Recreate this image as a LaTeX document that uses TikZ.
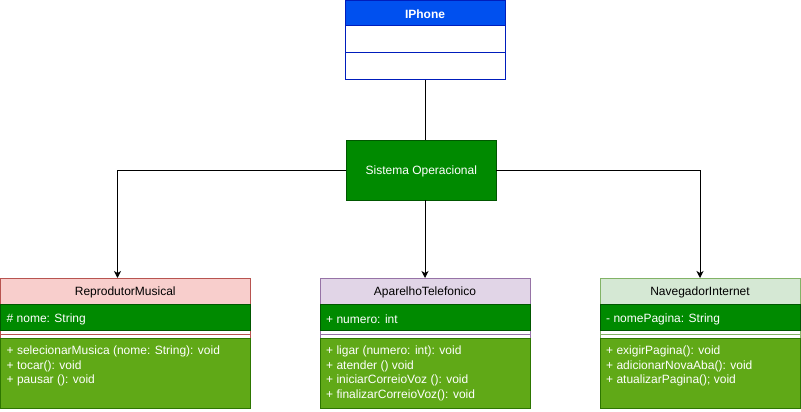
\documentclass[tikz,border=0pt]{standalone}
\usepackage{fontspec}
\setmainfont{Liberation Sans}
\usetikzlibrary{arrows.meta}
\definecolor{rmfill}{HTML}{F8CECC}\definecolor{rmline}{HTML}{B85450}
\definecolor{atfill}{HTML}{E1D5E7}\definecolor{atline}{HTML}{9673A6}
\definecolor{nvfill}{HTML}{D5E8D4}\definecolor{nvline}{HTML}{82B366}
\definecolor{attrfill}{HTML}{008A00}\definecolor{attrline}{HTML}{005700}
\definecolor{methfill}{HTML}{60A917}\definecolor{methline}{HTML}{2D7600}
\definecolor{ipfill}{HTML}{0050EF}\definecolor{ipline}{HTML}{001DBC}
\tikzset{
  box/.style={draw,line width=1pt,inner sep=0pt,outer sep=0pt},
  txt/.style={font=\fontsize{12}{14.5}\selectfont,inner sep=0pt},
  mem/.style={txt,text=white,align=left,anchor=west},
  arr/.style={draw,line width=1pt,-{Stealth[length=7pt,width=7pt,inset=2pt]}},
  conn/.style={draw,line width=1pt},
}
\begin{document}
\begin{tikzpicture}[x=1pt,y=-1pt]
\useasboundingbox (0,0) rectangle (801,412);
% IPhone
\draw[box,draw=ipline,fill=white] (345,0.5) rectangle (505,80);
\draw[box,draw=ipline,fill=ipfill] (345,0.5) rectangle (505,26);
\draw[draw=ipline,line width=1pt] (345,53) -- (505,53);
\node[txt,text=white,font=\fontsize{12}{14.5}\selectfont\bfseries] (iph) at (425,14.5) {IPhone};
\coordinate (iphb) at (425,80);
% Sistema Operacional
\node[box,draw=attrline,fill=attrfill,minimum width=150pt,minimum height=60pt] (so) at (421.3,170) {};
\node[txt,text=white] (sot) at (421.3,171.5) {Sistema Operacional};
% class macro
\newcommand{\umlclass}[8]{%
  % #1 name, #2 left x, #3 width, #4 header fill, #5 header line, #6 title, #7 attr, #8 methods
  \draw[box,draw=#5,fill=white] (#2,278) rectangle ++(#3,130);
  \node[box,draw=#5,fill=#4,minimum width=#3pt,minimum height=26pt,anchor=north west] (#1) at (#2,278) {};
  \node[txt] (#1t) at ([yshift=-1.8pt]#1.center) {#6};
  \node[box,draw=attrline,fill=attrfill,minimum width=#3pt,minimum height=26pt,anchor=north west] (#1a) at (#2,304) {};
  \node[mem] (#1at) at ([xshift=6pt,yshift=-2pt]#1a.west) {#7};
  \draw[draw=#5,line width=1pt] (#2,334) -- ++(#3,0);
  \node[box,draw=methline,fill=methfill,minimum width=#3pt,minimum height=70pt,anchor=north west] (#1m) at (#2,338) {};
  \node[mem,anchor=north west] (#1mt) at (#2+6,346) {#8};
}
\umlclass{rm}{0.5}{249.5}{rmfill}{rmline}{ReprodutorMusical}{\# nome: String}{+ selecionarMusica (nome: String): void\\+ tocar(): void\\+ pausar (): void}
\umlclass{ap}{320}{210}{atfill}{atline}{AparelhoTelefonico}{+ numero: int}{+ ligar (numero: int): void\\+ atender () void\\+ iniciarCorreioVoz (): void\\+ finalizarCorreioVoz(): void}
\umlclass{nv}{600}{200}{nvfill}{nvline}{NavegadorInternet}{- nomePagina: String}{+ exigirPagina(): void\\+ adicionarNovaAba(): void\\+ atualizarPagina(); void}
% connectors
\draw[conn] (iphb) -- (so.north -| iphb);
\coordinate (lt) at (117.5,278);
\draw[arr] (so.west) -| (lt);
\draw[arr] (so.south -| iphb) -- (ap.north -| iphb);
\draw[arr] (so.east) -| (nv.north);
\end{tikzpicture}
\end{document}
